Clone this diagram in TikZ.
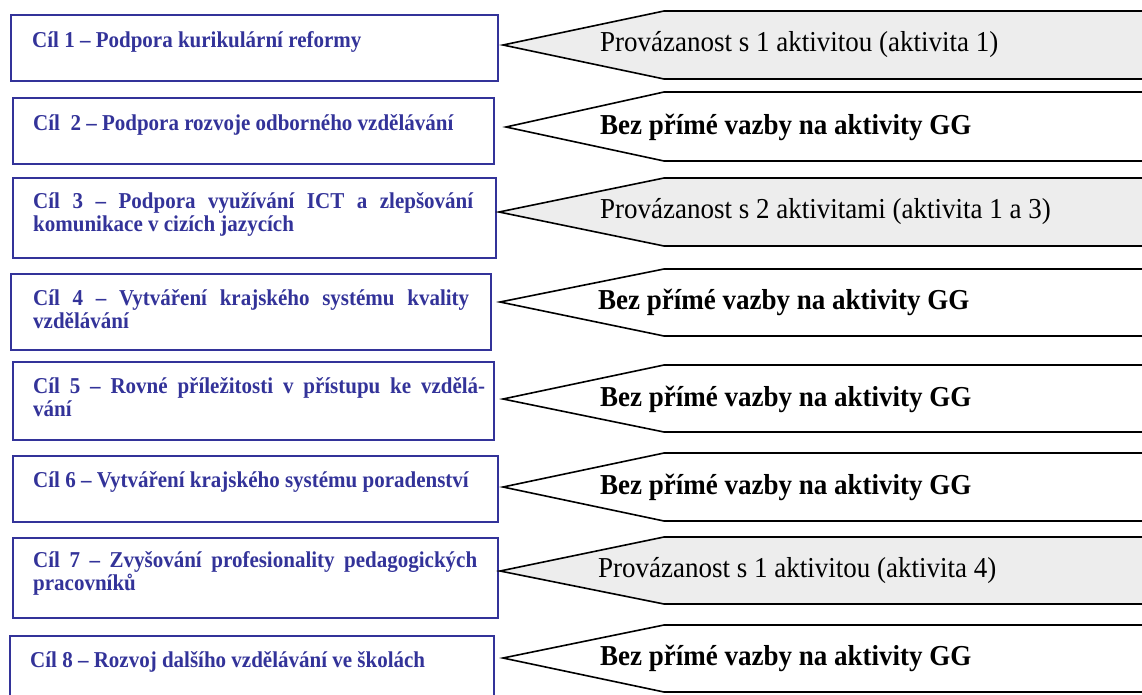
\documentclass[tikz,border=0pt]{standalone}
\usepackage{fontspec}
\setmainfont{Liberation Serif}
\definecolor{goalblue}{RGB}{51,51,153}
\definecolor{linkgray}{RGB}{237,237,237}
\newcommand{\tallA}[1]{\scalebox{1}[1.08]{#1}}
\newcommand{\tallB}[1]{\scalebox{1}[1.07]{#1}}
\tikzset{
  goalbox/.style={draw=goalblue, line width=2.3pt, anchor=north west, inner sep=0pt},
  goaltext/.style={text=goalblue, font=\fontsize{21}{22.7}\selectfont\bfseries, anchor=base west, inner sep=0pt},
  arrowshape/.style={draw=black, line width=1.6pt, line join=miter},
  linked/.style={arrowshape, fill=linkgray},
  unlinked/.style={arrowshape, fill=white},
  linktext/.style={font=\fontsize{27}{30}\selectfont, anchor=base west, inner sep=0pt},
  nolinktext/.style={font=\fontsize{27}{30}\selectfont\bfseries, anchor=base west, inner sep=0pt},
}
\begin{document}
\begin{tikzpicture}[x=1pt, y=-1pt]
\useasboundingbox (0,0) rectangle (1142,694);
\clip (0,0) rectangle (1142,694);
% goal boxes
\node[goalbox, minimum width=487pt, minimum height=66pt] (g1) at (10,14) {};
\node[goalbox, minimum width=481pt, minimum height=66pt] (g2) at (12,97) {};
\node[goalbox, minimum width=483pt, minimum height=80pt] (g3) at (12,177) {};
\node[goalbox, minimum width=480pt, minimum height=76pt] (g4) at (10,273) {};
\node[goalbox, minimum width=481pt, minimum height=78pt] (g5) at (12,361) {};
\node[goalbox, minimum width=485pt, minimum height=66pt] (g6) at (12,455) {};
\node[goalbox, minimum width=485pt, minimum height=80pt] (g7) at (12,537) {};
\node[goalbox, minimum width=484pt, minimum height=80pt] (g8) at (9,635) {};
% goal texts
\node[goaltext] (t1) at (32,47) {\tallA{Cíl 1 – Podpora kurikulární reformy}};
\node[goaltext] (t2) at (33,130) {\tallA{Cíl~~2 – Podpora rozvoje odborného vzdělávání}};
\node[goaltext] (t3a) at (33,208) {\tallA{\makebox[440pt][s]{Cíl 3 – Podpora využívání ICT a zlepšování}}};
\node[goaltext] (t3b) at (33,231) {\tallA{komunikace v cizích jazycích}};
\node[goaltext] (t4a) at (33,305) {\tallA{\makebox[436pt][s]{Cíl 4 – Vytváření krajského systému kvality}}};
\node[goaltext] (t4b) at (33,328) {\tallA{vzdělávání}};
\node[goaltext] (t5a) at (33,393) {\tallA{\makebox[452pt][s]{Cíl 5 – Rovné příležitosti v přístupu ke vzdělá-}}};
\node[goaltext] (t5b) at (33,416) {\tallA{vání}};
\node[goaltext] (t6) at (33,487) {\tallA{Cíl 6 – Vytváření krajského systému poradenství}};
\node[goaltext] (t7a) at (33,567) {\tallA{\makebox[444pt][s]{Cíl 7 – Zvyšování profesionality pedagogických}}};
\node[goaltext] (t7b) at (33,590) {\tallA{pracovníků}};
\node[goaltext] (t8) at (30,667) {\tallA{Cíl 8 – Rozvoj dalšího vzdělávání ve školách}};
% link arrows
\path[linked]   (1160,11)  -- (664,11)  -- (503,45)  -- (664,79)  -- (1160,79)  -- cycle;
\path[unlinked] (1160,92)  -- (664,92)  -- (506,127) -- (664,161) -- (1160,161) -- cycle;
\path[linked]   (1160,178) -- (664,178) -- (499,212) -- (664,246) -- (1160,246) -- cycle;
\path[unlinked] (1160,269) -- (664,269) -- (500,302) -- (664,336) -- (1160,336) -- cycle;
\path[unlinked] (1160,365) -- (664,365) -- (503,399) -- (664,432) -- (1160,432) -- cycle;
\path[unlinked] (1160,453) -- (664,453) -- (503,487) -- (664,521) -- (1160,521) -- cycle;
\path[linked]   (1160,537) -- (664,537) -- (500,571) -- (664,604) -- (1160,604) -- cycle;
\path[unlinked] (1160,625) -- (664,625) -- (503,658) -- (664,692) -- (1160,692) -- cycle;
% link texts
\node[linktext]   (a1) at (600,51)  {\tallB{Provázanost s 1 aktivitou (aktivita 1)}};
\node[nolinktext] (a2) at (600,134) {\tallB{Bez přímé vazby na aktivity GG}};
\node[linktext]   (a3) at (600,218) {\tallB{Provázanost s 2 aktivitami (aktivita 1 a 3)}};
\node[nolinktext] (a4) at (598,309) {\tallB{Bez přímé vazby na aktivity GG}};
\node[nolinktext] (a5) at (600,406) {\tallB{Bez přímé vazby na aktivity GG}};
\node[nolinktext] (a6) at (600,494) {\tallB{Bez přímé vazby na aktivity GG}};
\node[linktext]   (a7) at (598,577) {\tallB{Provázanost s 1 aktivitou (aktivita 4)}};
\node[nolinktext] (a8) at (600,665) {\tallB{Bez přímé vazby na aktivity GG}};
\end{tikzpicture}
\end{document}
